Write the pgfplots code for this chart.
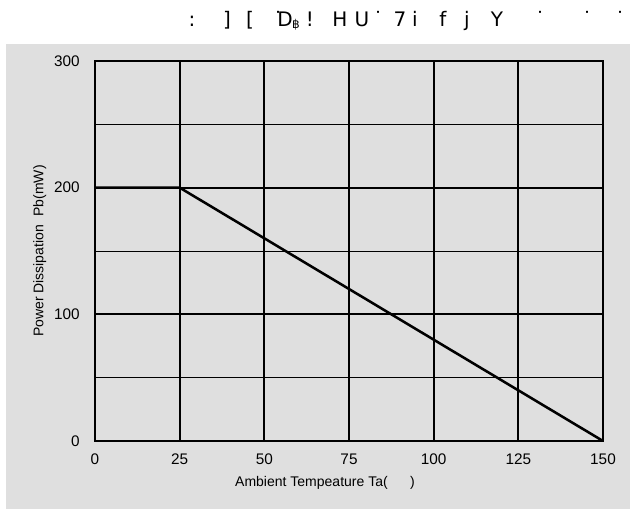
\documentclass[border=0pt]{standalone}
\usepackage{pgfplots}
\pgfplotsset{compat=1.18}
\usepackage{fontspec}
\setmainfont{Liberation Sans}
\newfontfamily\dejavu{DejaVu Sans}
\definecolor{bg}{HTML}{DFDFDF}
\begin{document}
\begin{tikzpicture}
% picture is 630 x 509 px, 0.75pt per px, origin at bottom left
\useasboundingbox (0pt,0pt) rectangle (472.5pt,381.75pt);
\fill[bg] (4.5pt,0pt) rectangle (472.5pt,348.75pt);
% garbled title, as it appears
\foreach \cx/\ch in {192/{:},227/{]},250/{[},278/{˙},285/{D},310/{!},340/{H},362/{U},378/{˙},400/{7},415/{i},443/{f},467/{j},497/{Y},540/{˙},587/{˙},620/{˙}}
  \node[font=\fontsize{15}{18}\selectfont\dejavu, inner sep=0pt, anchor=base] at (0.75pt*\cx,361.5pt) {\ch};
\node[font=\fontsize{9}{10}\selectfont\dejavu, inner sep=0pt, anchor=base] at (222pt,360pt) {฿};
\begin{axis}[
    at={(71.25pt,51pt)}, anchor=south west,
    width=381pt, height=285pt, scale only axis,
    xmin=0, xmax=150, ymin=0, ymax=300,
    xtick={0,25,...,150}, ytick={0,100,200,300},
    minor ytick={50,150,250},
    grid=both,
    major grid style={black, line width=1.4pt},
    minor grid style={black, line width=0.7pt},
    axis line style={black, line width=1.5pt},
    tick style={draw=none},
    axis background/.style={fill=bg},
    ticklabel style={font=\fontsize{11.5}{13}\selectfont},
    /pgf/number format/assume math mode=true,
    xticklabel style={yshift=-6pt},
    yticklabel style={xshift=-8pt},
    xlabel={Ambient Tempeature Ta(\hspace{1.6em})},
    ylabel={Power Dissipation\hspace{0.6em}Pb(mW)},
    label style={font=\fontsize{10.5}{12}\selectfont},
    xlabel style={yshift=-2pt, xshift=-18pt},
    ylabel style={yshift=-1pt},
  ]
  \addplot[black, line width=1.9pt] coordinates {(0,200) (25,200) (150,0)};
\end{axis}
\end{tikzpicture}
\end{document}
